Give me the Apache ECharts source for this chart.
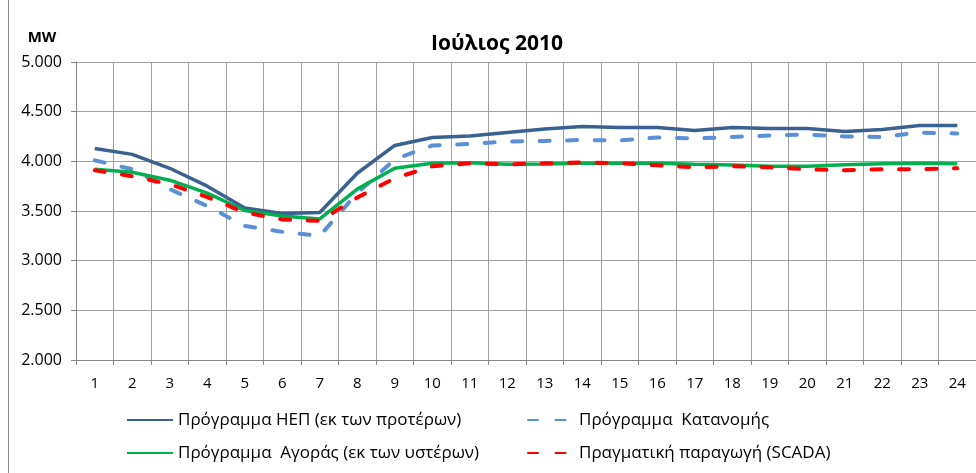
<!DOCTYPE html>
<html>
<head>
<meta charset="utf-8">
<script src="https://cdn.jsdelivr.net/npm/echarts@6/dist/echarts.min.js"></script>
<style>
  html, body { margin: 0; padding: 0; background: #fff; }
  #chart { width: 976px; height: 473px; }
</style>
</head>
<body>
<div id="chart"></div>
<script>
// hours of the day
var hours = ["1","2","3","4","5","6","7","8","9","10","11","12","13","14","15","16","17","18","19","20","21","22","23","24"];

// MW per hour
var progNep = [4130, 4070, 3930, 3750, 3530, 3475, 3485, 3880, 4160, 4240, 4255, 4290, 4325, 4350, 4340, 4340, 4310, 4340, 4330, 4330, 4300, 4320, 4360, 4360];
var progKatanomis = [4010, 3920, 3720, 3550, 3350, 3290, 3250, 3680, 4020, 4160, 4175, 4200, 4205, 4215, 4210, 4240, 4230, 4245, 4260, 4270, 4250, 4245, 4290, 4280];
var progAgoras = [3920, 3890, 3810, 3680, 3505, 3450, 3420, 3720, 3930, 3980, 3985, 3970, 3972, 3980, 3980, 3980, 3970, 3962, 3950, 3950, 3965, 3975, 3980, 3975];
var scada = [3910, 3850, 3770, 3640, 3485, 3415, 3400, 3635, 3830, 3950, 3980, 3970, 3980, 3990, 3980, 3960, 3940, 3950, 3940, 3920, 3910, 3920, 3920, 3930];

var names = [
  "Πρόγραμμα ΗΕΠ (εκ των προτέρων)",
  "Πρόγραμμα  Κατανομής",
  "Πρόγραμμα  Αγοράς (εκ των υστέρων)",
  "Πραγματική παραγωγή (SCADA)"
];

var font = "'Open Sans', 'Noto Sans', sans-serif";
var chart = echarts.init(document.getElementById("chart"));

function fmt(v) {
  // 5000 -> 5.000
  var s = String(v);
  return s.slice(0, s.length - 3) + "." + s.slice(-3);
}

// one legend per entry so the 2x2 layout sits where it should
function legendAt(name, left, top, w, gap) {
  return {
    left: left,
    top: top,
    padding: 0,
    itemWidth: w,
    itemHeight: 14,
    itemGap: 0,
    itemStyle: { opacity: 0 },
    textStyle: { fontSize: 17, lineHeight: 20, color: "#000", fontFamily: font, padding: [0, 0, 0, gap - 5] },
    data: [name]
  };
}

chart.setOption({
  animation: false,
  textStyle: { fontFamily: font },
  graphic: [
    {
      type: "text",
      x: 497,
      y: 44,
      style: {
        text: "Ιούλιος 2010", fontSize: 21, fontWeight: "bold", fill: "#000",
        fontFamily: font, align: "center", verticalAlign: "middle"
      }
    },
    {
      type: "text",
      x: 42,
      y: 38,
      style: {
        text: "MW", fontSize: 15, fontWeight: "bold", fill: "#000",
        fontFamily: font, align: "center", verticalAlign: "middle"
      }
    },
    {
      type: "line",
      shape: { x1: 8.5, y1: 0, x2: 8.5, y2: 473 },
      style: { stroke: "#8c8c8c", lineWidth: 1 }
    }
  ],
  legend: [
    legendAt(names[0], 126, 410, 46, 5),
    legendAt(names[2], 126, 443, 46, 5),
    legendAt(names[1], 527, 410, 42, 9),
    legendAt(names[3], 527, 443, 42, 9)
  ],
  grid: { left: 76, right: 0, top: 62, bottom: 113 },
  xAxis: {
    type: "category",
    data: hours,
    boundaryGap: true,
    axisLine: { lineStyle: { color: "#868686", width: 1 } },
    axisTick: { show: true, length: 5, lineStyle: { color: "#868686" } },
    axisLabel: { color: "#000", fontSize: 15, margin: 16, fontFamily: font },
    splitLine: { show: true, lineStyle: { color: "#a0a0a0", width: 1 } }
  },
  yAxis: {
    type: "value",
    min: 2000,
    max: 5000,
    interval: 500,
    axisLine: { show: true, lineStyle: { color: "#868686" } },
    axisTick: { show: true, length: 5, lineStyle: { color: "#868686" } },
    axisLabel: { color: "#000", fontSize: 16, margin: 14, fontFamily: font, formatter: fmt },
    splitLine: { show: true, lineStyle: { color: "#a0a0a0", width: 1 } }
  },
  series: [
    {
      name: names[0],
      type: "line",
      data: progNep,
      symbol: "none",
      lineStyle: { color: "#3a6190", width: 3.5 },
      itemStyle: { color: "#3a6190" }
    },
    {
      name: names[1],
      type: "line",
      data: progKatanomis,
      symbol: "none",
      lineStyle: { color: "#5b8fd6", width: 4, type: [10, 17.5], cap: "round" },
      itemStyle: { color: "#5b8fd6" }
    },
    {
      name: names[2],
      type: "line",
      data: progAgoras,
      symbol: "none",
      lineStyle: { color: "#00b050", width: 3.5 },
      itemStyle: { color: "#00b050" }
    },
    {
      name: names[3],
      type: "line",
      data: scada,
      symbol: "none",
      lineStyle: { color: "#ff0000", width: 4, type: [10, 17.5], cap: "round" },
      itemStyle: { color: "#ff0000" }
    }
  ]
});
</script>
</body>
</html>
